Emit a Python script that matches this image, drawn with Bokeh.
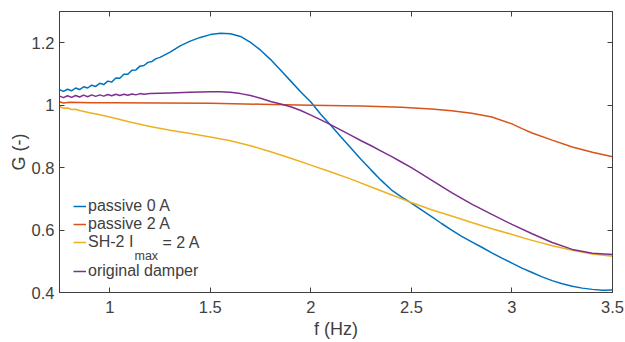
from bokeh.plotting import figure
from bokeh.models import (Range1d, LinearAxis, FixedTicker, Legend, LegendItem,
                          Label, CustomJSTickFormatter)
from bokeh.embed import file_html
from bokeh.resources import INLINE

# ---------------- data ----------------
f_p0 = [0.75, 0.77, 0.79, 0.81, 0.83, 0.85, 0.87, 0.89, 0.91, 0.93, 0.95, 0.97, 0.99,
        1.01, 1.03, 1.05, 1.07, 1.09, 1.11, 1.13, 1.15, 1.17, 1.19, 1.21, 1.23, 1.25,
        1.30, 1.35, 1.40, 1.45, 1.50, 1.55, 1.60, 1.65, 1.70, 1.75, 1.80, 1.85, 1.90,
        1.95, 2.00, 2.05, 2.10, 2.15, 2.20, 2.25, 2.30, 2.35, 2.40, 2.45, 2.50, 2.55,
        2.60, 2.65, 2.70, 2.75, 2.80, 2.85, 2.90, 2.95, 3.00, 3.05, 3.10, 3.15, 3.20,
        3.25, 3.30, 3.35, 3.40, 3.45, 3.50]
g_p0 = [1.050, 1.044, 1.051, 1.046, 1.055, 1.050, 1.059, 1.055, 1.064, 1.060, 1.070, 1.066, 1.077,
        1.074, 1.087, 1.086, 1.099, 1.099, 1.112, 1.113, 1.125, 1.127, 1.137, 1.140, 1.149, 1.153,
        1.170, 1.190, 1.205, 1.217, 1.226, 1.230, 1.229, 1.220, 1.201, 1.176, 1.146, 1.112, 1.077,
        1.042, 1.010, 0.970, 0.935, 0.898, 0.862, 0.826, 0.792, 0.759, 0.729, 0.706, 0.686, 0.665,
        0.643, 0.621, 0.600, 0.580, 0.562, 0.545, 0.527, 0.510, 0.494, 0.478, 0.464, 0.450, 0.438,
        0.428, 0.420, 0.414, 0.410, 0.407, 0.408]

f_p2 = [0.75, 0.77, 0.80, 0.90, 1.00, 1.25, 1.50, 1.75, 2.00, 2.25, 2.45, 2.60, 2.70,
        2.80, 2.90, 3.00, 3.05, 3.10, 3.20, 3.30, 3.40, 3.50]
g_p2 = [1.011, 1.007, 1.009, 1.008, 1.008, 1.007, 1.006, 1.003, 1.000, 0.997, 0.993, 0.988, 0.982,
        0.974, 0.962, 0.940, 0.925, 0.911, 0.888, 0.866, 0.849, 0.835]

f_sh = [0.75, 0.77, 0.79, 0.81, 0.83, 0.85, 0.90, 0.95, 1.00, 1.10, 1.20, 1.30, 1.40, 1.50,
        1.60, 1.70, 1.80, 1.90, 2.00, 2.10, 2.20, 2.30, 2.40, 2.50, 2.60, 2.70, 2.80,
        2.90, 3.00, 3.10, 3.20, 3.30, 3.40, 3.50]
g_sh = [0.996, 0.990, 0.991, 0.986, 0.987, 0.983, 0.976, 0.969, 0.962, 0.946, 0.932, 0.920, 0.909, 0.898,
        0.886, 0.870, 0.851, 0.830, 0.808, 0.786, 0.763, 0.738, 0.713, 0.688, 0.665, 0.645, 0.624,
        0.604, 0.586, 0.567, 0.550, 0.535, 0.523, 0.516]

f_orig = [0.75, 0.77, 0.79, 0.81, 0.83, 0.85, 0.87, 0.89, 0.91, 0.93, 0.95, 0.97, 0.99,
          1.01, 1.03, 1.05, 1.07, 1.09, 1.11, 1.13, 1.15, 1.17, 1.20, 1.30, 1.40, 1.50,
          1.55, 1.60, 1.65, 1.70, 1.75, 1.80, 1.85, 1.90, 1.95, 2.00, 2.05, 2.10, 2.15,
          2.20, 2.25, 2.30, 2.35, 2.40, 2.45, 2.50, 2.60, 2.70, 2.80, 2.90, 3.00, 3.10,
          3.20, 3.30, 3.40, 3.50]
g_orig = [1.029, 1.024, 1.030, 1.025, 1.031, 1.026, 1.032, 1.027, 1.033, 1.028, 1.033, 1.029, 1.034,
          1.030, 1.035, 1.031, 1.035, 1.032, 1.036, 1.033, 1.037, 1.035, 1.037, 1.039, 1.041, 1.043,
          1.043, 1.041, 1.037, 1.031, 1.022, 1.012, 1.004, 0.995, 0.983, 0.968, 0.953, 0.937, 0.920,
          0.903, 0.886, 0.870, 0.853, 0.836, 0.818, 0.800, 0.760, 0.720, 0.683, 0.650, 0.618, 0.588,
          0.560, 0.538, 0.526, 0.522]

series_labels = ["passive 0 A", "passive 2 A", "SH-2 I", "original damper"]
series_colors = ["#0072BD", "#D95319", "#EDB120", "#7E2F8E"]

x_ticks = [1, 1.5, 2, 2.5, 3, 3.5]
x_tick_labels = ["1", "1.5", "2", "2.5", "3", "3.5"]
y_ticks = [0.4, 0.6, 0.8, 1, 1.2]
y_tick_labels = ["0.4", "0.6", "0.8", "1", "1.2"]

# ---------------- figure ----------------
FONT = "Liberation Sans"
TXT = "#404040"
AX = "#404040"

p = figure(width=625, height=342, output_backend="svg", toolbar_location=None,
           x_range=Range1d(0.75, 3.5), y_range=Range1d(0.4, 1.3),
           x_axis_label="f (Hz)", y_axis_label="G (-)",
           min_border_left=59, min_border_right=13, min_border_top=11, min_border_bottom=50)
p.grid.visible = False
p.outline_line_color = AX
p.outline_line_width = 1
p.background_fill_color = "white"
p.border_fill_color = "white"


def fmt(tv, tl):
    return CustomJSTickFormatter(args=dict(tvals=tv, tlabs=tl), code="""
        for (let i = 0; i < tvals.length; i++) {
            if (Math.abs(tvals[i] - tick) < 1e-9) { return tlabs[i]; }
        }
        return '';
    """)


def style_axis(ax, tv, tl, show_labels=True):
    ax.ticker = FixedTicker(ticks=tv)
    ax.major_tick_in = 5
    ax.major_tick_out = 0
    ax.minor_tick_line_color = None
    ax.major_tick_line_color = AX
    ax.axis_line_color = AX
    ax.major_label_text_font = FONT
    ax.major_label_text_color = TXT
    ax.axis_label_text_font = FONT
    ax.axis_label_text_color = TXT
    ax.axis_label_text_font_style = "normal"
    ax.axis_label_text_font_size = "18px"
    if show_labels:
        ax.formatter = fmt(tv, tl)
        ax.major_label_text_font_size = "16.5px"
    else:
        ax.formatter = fmt([], [])
        ax.major_label_text_font_size = "1px"
        ax.major_label_standoff = 0


style_axis(p.xaxis[0], x_ticks, x_tick_labels)
p.xaxis[0].major_label_standoff = 8
p.xaxis[0].axis_label_standoff = 3
style_axis(p.yaxis[0], y_ticks, y_tick_labels)
p.yaxis[0].major_label_standoff = 5
p.yaxis[0].axis_label_standoff = 0

top = LinearAxis()
style_axis(top, x_ticks, x_tick_labels, show_labels=False)
p.add_layout(top, "above")
right = LinearAxis()
style_axis(right, y_ticks, y_tick_labels, show_labels=False)
p.add_layout(right, "right")

renderers = []
for fx, gy, col in zip([f_p0, f_p2, f_sh, f_orig], [g_p0, g_p2, g_sh, g_orig], series_colors):
    r = p.line(fx, gy, line_color=col, line_width=1.5)
    renderers.append(r)

leg_kw = dict(orientation="vertical",
              label_text_font=FONT, label_text_font_size="16px", label_text_color=TXT,
              glyph_width=13, glyph_height=16, label_height=16, label_standoff=2,
              spacing=0, padding=0, margin=0,
              border_line_color=None, background_fill_alpha=0)
items = [LegendItem(label=lab, renderers=[r]) for lab, r in zip(series_labels, renderers)]
legend_a = Legend(items=items[:3], location=(14, 41), **leg_kw)
legend_b = Legend(items=items[3:], location=(14, 12), **leg_kw)
p.add_layout(legend_a)
p.add_layout(legend_b)

p.add_layout(Label(x=75, y=37, x_units="screen", y_units="screen", text="max",
                   text_font=FONT, text_font_size="12.5px", text_color=TXT,
                   text_baseline="alphabetic", text_align="left"))
p.add_layout(Label(x=103, y=50, x_units="screen", y_units="screen", text="= 2 A",
                   text_font=FONT, text_font_size="16px", text_color=TXT,
                   text_baseline="middle", text_align="left"))

open("out.html", "w").write(file_html(p, INLINE))
